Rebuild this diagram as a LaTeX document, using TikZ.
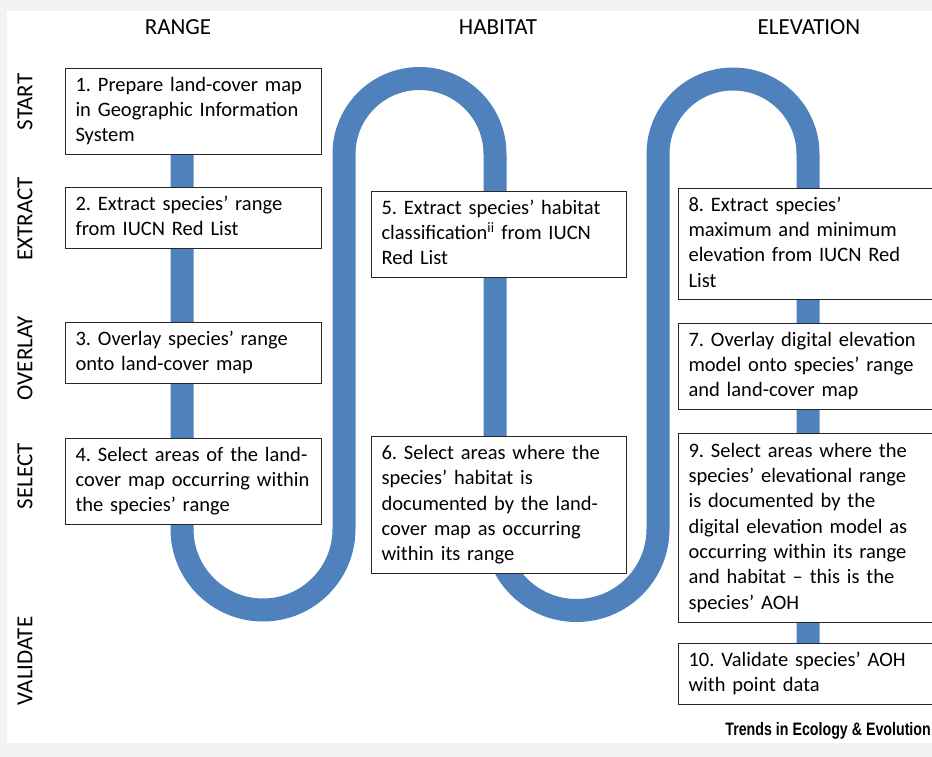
\documentclass[tikz,border=0pt]{standalone}
\usepackage{fontspec}
\setmainfont{Carlito}
\newfontfamily\trendsfont{Liberation Sans}
\definecolor{snakeblue}{RGB}{79,129,189}
\definecolor{outergray}{RGB}{241,242,244}
\definecolor{boxline}{RGB}{40,40,40}
\frenchspacing
\begin{document}
\begin{tikzpicture}[x=1pt,y=-1pt,
  stepbox/.style={draw=boxline,line width=1.1pt,fill=white,anchor=north west,
    inner xsep=10pt,inner ysep=0pt,align=left,
    font=\fontsize{20.5}{25.3}\selectfont,
    execute at begin node=\strut, execute at end node=\strut},
  lbox/.style={stepbox,minimum width=256pt,text width=236pt},
  mbox/.style={stepbox,minimum width=255pt,text width=235pt},
  rbox/.style={stepbox,minimum width=262pt,text width=242pt},
  heading/.style={font=\fontsize{23}{27}\selectfont,anchor=base},
  sidelabel/.style={font=\fontsize{23}{27}\selectfont,rotate=90,anchor=center,inner sep=0pt},
  snake/.style={draw=snakeblue,line width=23pt,line cap=butt}]
\useasboundingbox (0,0) rectangle (932,757);
\clip (0,0) rectangle (932,757);
\fill[outergray] (0,0) rectangle (932,757);
\fill[white] (7,11) rectangle (940,743);

% snake
\coordinate (s0) at (182,154);
\coordinate (s1) at (182,529);
\coordinate (s2) at (344,154);
\coordinate (s3) at (495,529);
\coordinate (s4) at (658,154);
\coordinate (s5) at (808,643);
\draw[snake] (s0) -- (s1) arc[start angle=180,end angle=0,radius=81]
  -- (s2) arc[start angle=180,end angle=360,radius=75.5]
  -- (s3) arc[start angle=180,end angle=0,radius=81.5]
  -- (s4) arc[start angle=180,end angle=360,radius=75]
  -- (s5);

% headings
\node[heading] (hr) at (178,35) {RANGE};
\node[heading] (hh) at (498,35) {HABITAT};
\node[heading] (he) at (809,35) {ELEVATION};

% side labels
\node[sidelabel] (ls) at (25,102) {START};
\node[sidelabel] (le) at (25,219) {EXTRACT};
\node[sidelabel] (lo) at (25,358) {OVERLAY};
\node[sidelabel] (lsel) at (25,476) {SELECT};
\node[sidelabel] (lv) at (25,661) {VALIDATE};

% boxes
\node[lbox,minimum height=86pt] (b1) at (65,68) {1. Prepare land-cover map\\in Geographic Information\\System};
\node[lbox,minimum height=61pt] (b2) at (65,187) {2. Extract species’ range\\from IUCN Red List};
\node[lbox,minimum height=61pt] (b3) at (65,322) {3. Overlay species’ range\\onto land-cover map};
\node[lbox,minimum height=86pt] (b4) at (65,438) {4. Select areas of the land-\\cover map occurring within\\the species’ range};
\node[mbox,minimum height=86pt] (b5) at (371,191) {5. Extract species’ habitat\\classification\textsuperscript{ii} from IUCN\\Red List};
\node[mbox,minimum height=137pt] (b6) at (371,436) {6. Select areas where the\\species’ habitat is\\documented by the land-\\cover map as occurring\\within its range};
\node[rbox,minimum height=111pt] (b8) at (678,188) {8. Extract species’\\maximum and minimum\\elevation from IUCN Red\\List};
\node[rbox,minimum height=86pt] (b7) at (678,323) {7. Overlay digital elevation\\model onto species’ range\\and land-cover map};
\node[rbox,minimum height=189pt] (b9) at (678,433) {9. Select areas where the\\species’ elevational range\\is documented by the\\digital elevation model as\\occurring within its range\\and habitat – this is the\\species’ AOH};
\node[rbox,minimum height=61pt] (b10) at (678,643) {10. Validate species’ AOH\\with point data};

% credit
\node[anchor=base east,inner sep=0pt] (credit) at (931,735) {\scalebox{0.79}[1]{\trendsfont\bfseries\fontsize{18}{20}\selectfont Trends in Ecology \& Evolution}};
\end{tikzpicture}
\end{document}
